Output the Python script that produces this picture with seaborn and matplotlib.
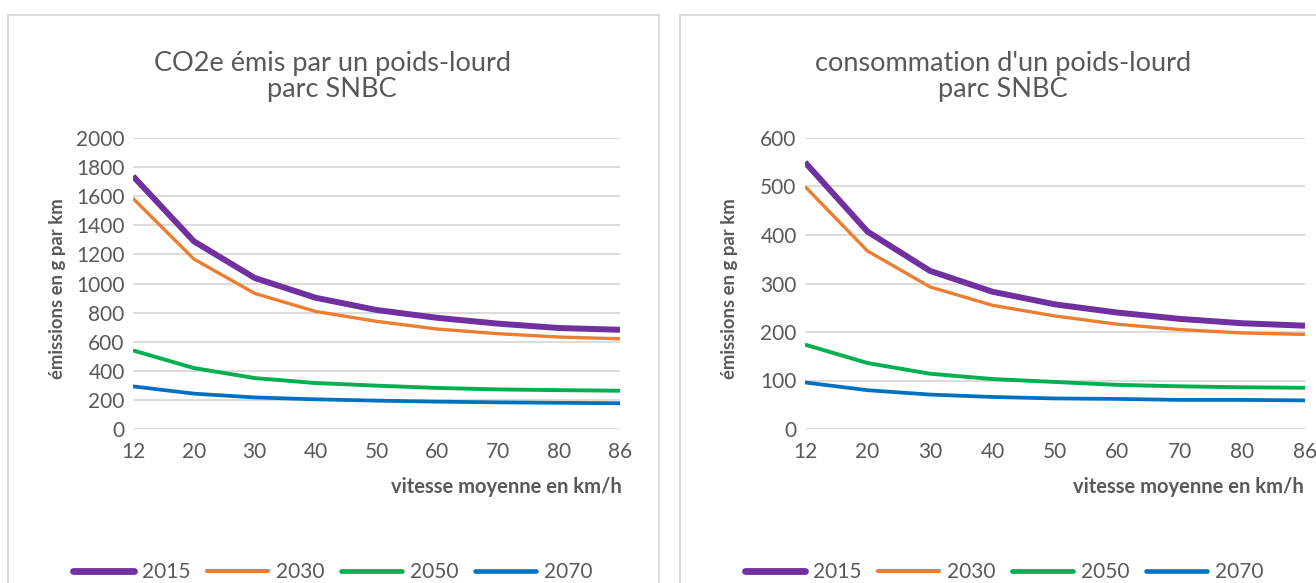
import matplotlib
matplotlib.use("Agg")
import matplotlib.pyplot as plt
from matplotlib.patches import Rectangle
import pandas as pd
import seaborn as sns

# Données
vitesses = ["12", "20", "30", "40", "50", "60", "70", "80", "86"]
annees = ["2015", "2030", "2050", "2070"]

co2_2015 = [1738, 1290, 1038, 902, 818, 764, 724, 694, 682]
co2_2030 = [1585, 1168, 932, 808, 740, 687, 655, 632, 620]
co2_2050 = [540, 419, 350, 316, 298, 282, 272, 267, 263]
co2_2070 = [293, 243, 217, 204, 195, 188, 183, 180, 177]

conso_2015 = [550, 407, 326, 283, 257, 240, 227, 218, 213]
conso_2030 = [500, 367, 293, 255, 233, 216, 205, 198, 195]
conso_2050 = [174, 136, 114, 103, 97, 91, 88, 86, 85]
conso_2070 = [96, 80, 71, 66, 63, 62, 60, 60, 59]

couleurs = ["#7030A0", "#ED7D31", "#00B050", "#0070C0"]
epaisseurs = [4.3, 2.4, 2.8, 2.7]
gris = "#595959"


def long_format(series):
    rows = []
    for annee, vals in zip(annees, series):
        for v, y in zip(vitesses, vals):
            rows.append({"vitesse": v, "valeur": y, "annee": annee})
    return pd.DataFrame(rows)


df_co2 = long_format([co2_2015, co2_2030, co2_2050, co2_2070])
df_conso = long_format([conso_2015, conso_2030, conso_2050, conso_2070])

sns.set_theme(style="white")
plt.rcParams["font.family"] = ["Lato", "DejaVu Sans"]

W, H = 1316, 583
fig = plt.figure(figsize=(W / 100, H / 100), dpi=100)

# cadres des deux graphiques
fig.patches.append(Rectangle((8 / W, -0.1), 651 / W, 1.1 - 15 / H, transform=fig.transFigure,
                             fill=False, edgecolor="#D9D9D9", linewidth=1.3))
fig.patches.append(Rectangle((680 / W, -0.1), 700 / W, 1.1 - 15 / H, transform=fig.transFigure,
                             fill=False, edgecolor="#D9D9D9", linewidth=1.3))

# (données, x gauche, x droite, titre, ymax, pas, centre titre, x ylabel, fin xlabel, centre légende)
panneaux = [
    (df_co2, 133, 620, "CO2e émis par un poids-lourd\nparc SNBC", 2000, 200, 332, 57, 622, 333),
    (df_conso, 805, 1305, "consommation d'un poids-lourd\nparc SNBC", 600, 100, 1003, 729, 1304, 1004),
]

for df, x0, x1, titre, ymax, pas, tx, ylab_x, xlab_right, leg_x in panneaux:
    ax = fig.add_axes([x0 / W, 1 - 429 / H, (x1 - x0) / W, (429 - 138) / H])
    sns.lineplot(data=df, x="vitesse", y="valeur", hue="annee", hue_order=annees,
                 palette=couleurs, ax=ax, legend=True, sort=False)
    for line, lw in zip(ax.get_lines(), epaisseurs):
        line.set_linewidth(lw)
        line.set_solid_capstyle("butt")
    ax.set_xlim(0, len(vitesses) - 1)
    ax.set_ylim(0, ymax)
    ax.set_yticks(range(0, ymax + 1, pas))
    ax.grid(axis="y", color="#D9D9D9", linewidth=1.3)
    ax.grid(axis="x", visible=False)
    for s in ax.spines.values():
        s.set_visible(False)
    ax.tick_params(axis="both", length=0, labelsize=15, labelcolor=gris)
    ax.tick_params(axis="y", pad=6)
    ax.tick_params(axis="x", pad=9)
    ax.set_xlabel("")
    ax.set_ylabel("")

    # titre
    fig.text(tx / W, 1 - 76 / H, titre, ha="center", va="center", fontsize=19.5,
             color=gris, linespacing=1.05)
    # titres des axes
    fig.text(ylab_x / W, 1 - 289 / H, "émissions en g par km", rotation=90, ha="center",
             va="center", fontsize=13.3, fontweight="bold", color=gris)
    fig.text(xlab_right / W, 1 - 487 / H, "vitesse moyenne en km/h", ha="right",
             va="center", fontsize=14.5, fontweight="bold", color=gris)

    handles, labels = ax.get_legend_handles_labels()
    for h, lw in zip(handles, epaisseurs):
        h.set_linewidth(lw + 0.6)
    ax.legend(handles, labels, loc="center",
              bbox_to_anchor=((leg_x - x0) / (x1 - x0), -(572 - 429) / (429 - 138)),
              ncol=4, frameon=False, fontsize=15, handlelength=2.9, handletextpad=0.4,
              columnspacing=0.8, labelcolor=gris)

fig.savefig("out.png", dpi=100)
